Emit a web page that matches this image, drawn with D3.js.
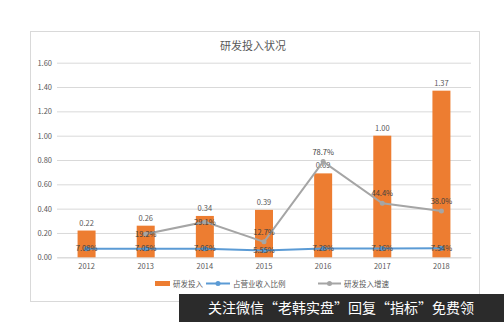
<!DOCTYPE html>
<html><head><meta charset="utf-8">
<script src="https://cdn.jsdelivr.net/npm/d3@7"></script>
<style>body{margin:0;background:#fff}svg{display:block}</style>
</head><body>
<svg id="c" width="504" height="322"></svg>
<script>
const categories = ["2012","2013","2014","2015","2016","2017","2018"];
const investment = [0.22, 0.26, 0.34, 0.39, 0.69, 1.00, 1.37];
const ratio = [0.0708, 0.0705, 0.0706, 0.0555, 0.0728, 0.0716, 0.0754];
const growth = [null, 0.192, 0.291, 0.127, 0.787, 0.444, 0.380];
const yTicks = [0, 0.2, 0.4, 0.6, 0.8, 1.0, 1.2, 1.4, 1.6];
const seriesNames = ["研发投入", "占营业收入比例", "研发投入增速"];
const title = "研发投入状况";
const banner = "关注微信“老韩实盘”回复“指标”免费领";

const svg = d3.select("#c");
const font = "'Noto Sans CJK SC', 'Liberation Sans', sans-serif";
const orange = "#ED7D31", blue = "#5B9BD5", gray = "#A5A5A5", txt = "#595959";

svg.append("rect").attr("x",30.5).attr("y",31.5).attr("width",449).attr("height",270)
  .attr("fill","#fff").attr("stroke","#D9D9D9");

const x = d3.scaleBand().domain(categories).range([57,471]).paddingInner(0.69).paddingOuter(0.345);
const y = d3.scaleLinear().domain([0,1.6]).range([257.3,62.7]);

svg.append("text").attr("x",253).attr("y",50).attr("text-anchor","middle")
  .attr("font-family",font).attr("font-size",11).attr("fill",txt).text(title);

const ga = svg.append("g").attr("transform","translate(57,0)")
  .call(d3.axisLeft(y).tickValues(yTicks).tickSize(-414).tickFormat(d3.format(".2f")));
ga.select(".domain").remove();
ga.selectAll(".tick line").attr("stroke","#D9D9D9");
ga.selectAll(".tick text").attr("x",-5).attr("fill",txt).attr("font-size",7.5).attr("font-family",font);

const gx = svg.append("g").attr("transform","translate(0,257.3)")
  .call(d3.axisBottom(x).tickSize(0).tickPadding(6));
gx.select(".domain").attr("stroke","#D9D9D9");
gx.selectAll(".tick text").attr("fill",txt).attr("font-size",7.5).attr("font-family",font);

const bw = 18;
const cx = d => x(d) + x.bandwidth()/2;
svg.selectAll(".bar").data(categories).join("rect")
  .attr("x",d=>cx(d)-bw/2).attr("width",bw)
  .attr("y",(d,i)=>y(investment[i])).attr("height",(d,i)=>y(0)-y(investment[i]))
  .attr("fill",orange);
svg.selectAll(".bl").data(categories).join("text")
  .attr("x",cx).attr("y",(d,i)=>y(investment[i])-5).attr("text-anchor","middle")
  .attr("font-family",font).attr("font-size",7.5).attr("fill",txt)
  .text((d,i)=>d3.format(".2f")(investment[i]));

const line = d3.line().defined(d=>d[1]!=null).x(d=>cx(d[0])).y(d=>y(d[1]));
const rp = categories.map((c,i)=>[c,ratio[i],investment[i]]);
const gp = categories.map((c,i)=>[c,growth[i],investment[i]]).filter(d=>d[1]!=null);

svg.append("path").attr("d",line(gp)).attr("fill","none").attr("stroke",gray).attr("stroke-width",2);
svg.selectAll(".gm").data(gp).join("circle").attr("cx",d=>cx(d[0])).attr("cy",d=>y(d[1])).attr("r",2.5).attr("fill",gray);
svg.append("path").attr("d",line(rp)).attr("fill","none").attr("stroke",blue).attr("stroke-width",2);
svg.selectAll(".bm").data(rp).join("circle").attr("cx",d=>cx(d[0])).attr("cy",d=>y(d[1])).attr("r",2.5).attr("fill",blue);

// growth labels: centred on the point when it sits just under the bar top (avoids the bar label), else above
svg.selectAll(".gl").data(gp).join("text")
  .attr("x",d=>cx(d[0]))
  .attr("y",d=>{ const near = d[1] < d[2] && d[2]-d[1] < 0.1; return near ? y(d[1])+3 : y(d[1])-7; })
  .attr("text-anchor","middle")
  .attr("font-family",font).attr("font-size",7.5).attr("fill","#404040")
  .text(d=>d3.format(".1%")(d[1]));
svg.selectAll(".rl").data(rp).join("text")
  .attr("x",d=>cx(d[0])).attr("y",d=>y(d[1])+2.5).attr("text-anchor","middle")
  .attr("font-family",font).attr("font-size",7.5).attr("fill","#404040")
  .text(d=>d3.format(".2%")(d[1]));

const lg = svg.append("g").attr("font-family",font).attr("font-size",7.5).attr("fill",txt);
lg.append("rect").attr("x",155).attr("y",281).attr("width",15).attr("height",5).attr("fill",orange);
lg.append("text").attr("x",173).attr("y",286.5).text(seriesNames[0]);
lg.append("line").attr("x1",206).attr("x2",230).attr("y1",283.5).attr("y2",283.5).attr("stroke",blue).attr("stroke-width",2);
lg.append("circle").attr("cx",218).attr("cy",283.5).attr("r",2.5).attr("fill",blue);
lg.append("text").attr("x",233).attr("y",286.5).text(seriesNames[1]);
lg.append("line").attr("x1",318).attr("x2",341).attr("y1",283.5).attr("y2",283.5).attr("stroke",gray).attr("stroke-width",2);
lg.append("circle").attr("cx",329.5).attr("cy",283.5).attr("r",2.5).attr("fill",gray);
lg.append("text").attr("x",344).attr("y",286.5).text(seriesNames[2]);

svg.append("rect").attr("x",179).attr("y",294).attr("width",325).attr("height",28).attr("fill","#2B2B2B");
svg.append("text").attr("x",341).attr("y",313).attr("text-anchor","middle")
  .attr("font-family",font).attr("font-size",14).attr("fill","#fff").text(banner);
</script>
</body></html>
